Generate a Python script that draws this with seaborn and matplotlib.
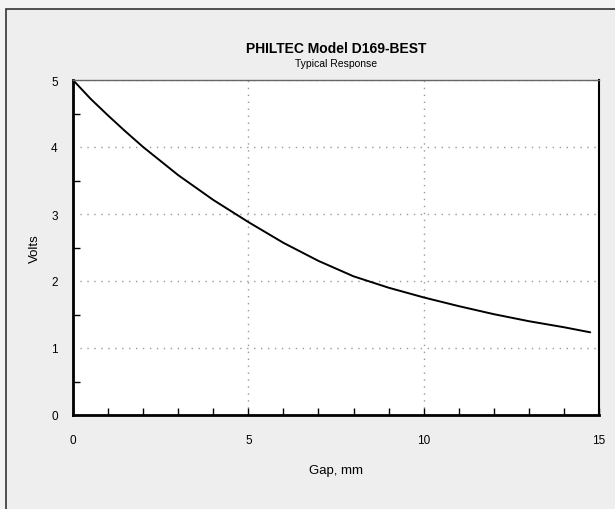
import numpy as np
import pandas as pd
import matplotlib
matplotlib.use("Agg")
import matplotlib.pyplot as plt
import seaborn as sns
from matplotlib.patches import Rectangle
from matplotlib.ticker import MultipleLocator

# values
gap_mm = [0, 0.5, 1, 1.5, 2, 3, 4, 5, 6, 7, 8, 9, 10, 11, 12, 13, 14, 14.75]
volts = [5.0, 4.72, 4.47, 4.23, 4.0, 3.58, 3.21, 2.88, 2.57, 2.30, 2.07, 1.90, 1.755, 1.625, 1.505, 1.40, 1.31, 1.234]

title = "PHILTEC Model D169-BEST"
subtitle = "Typical Response"
x_label = "Gap, mm"
y_label = "Volts"

df = pd.DataFrame({"gap": gap_mm, "volts": volts})

sns.set_style("white")
plt.rcParams["font.family"] = ["Liberation Sans", "DejaVu Sans"]
plt.rcParams["text.color"] = "black"
plt.rcParams["axes.labelcolor"] = "black"
plt.rcParams["xtick.color"] = "black"
plt.rcParams["ytick.color"] = "black"

fig = plt.figure(figsize=(6.15, 5.1), dpi=100)
fig.patch.set_facecolor("#f3f3f3")
W, H = 615, 510

# outer panel with a border on left and top only (rest runs off the image)
panel = Rectangle((6 / W, -0.1), 1.2, 1.1 - 10 / H, transform=fig.transFigure,
                  facecolor="#eeeeee", edgecolor="#333333", linewidth=1.2, zorder=-5)
fig.add_artist(panel)

ax = fig.add_axes([73 / W, 1 - 416 / H, (599 - 73) / W, (416 - 81) / H])
ax.set_zorder(2)
ax.set_facecolor("white")

sns.lineplot(data=df, x="gap", y="volts", color="black", linewidth=1.4, ax=ax)

ax.set_xlim(0, 15)
ax.set_ylim(0, 5)
ax.xaxis.set_major_locator(MultipleLocator(5))
ax.xaxis.set_minor_locator(MultipleLocator(1))
ax.yaxis.set_major_locator(MultipleLocator(1))
ax.yaxis.set_minor_locator(MultipleLocator(0.5))

ax.grid(True, which="major", linestyle=(0, (1, 4)), color="#999999", linewidth=1)
ax.tick_params(bottom=True, left=True, top=False, right=False, which="both")
ax.tick_params(axis="both", which="major", direction="in", labelsize=8.5, colors="black")
ax.tick_params(axis="x", which="major", pad=14, length=5, width=1)
ax.tick_params(axis="y", which="major", pad=11, length=0)
ax.tick_params(axis="both", which="minor", direction="in", length=5, width=1, color="black")

for side in ["left", "bottom"]:
    ax.spines[side].set_color("black")
    ax.spines[side].set_linewidth(2)
ax.spines["right"].set_color("black")
ax.spines["right"].set_linewidth(1.5)
ax.spines["top"].set_color("#666666")
ax.spines["top"].set_linewidth(1)

ax.set_xlabel(x_label, fontsize=9.5, labelpad=13)
ax.set_ylabel(y_label, fontsize=9.5, labelpad=7)

fig.text(336 / W, 1 - 49 / H, title, ha="center", va="center", fontsize=10, fontweight="bold")
fig.text(336 / W, 1 - 64 / H, subtitle, ha="center", va="center", fontsize=7.5)

fig.savefig("out.png", dpi=100, facecolor=fig.get_facecolor())
